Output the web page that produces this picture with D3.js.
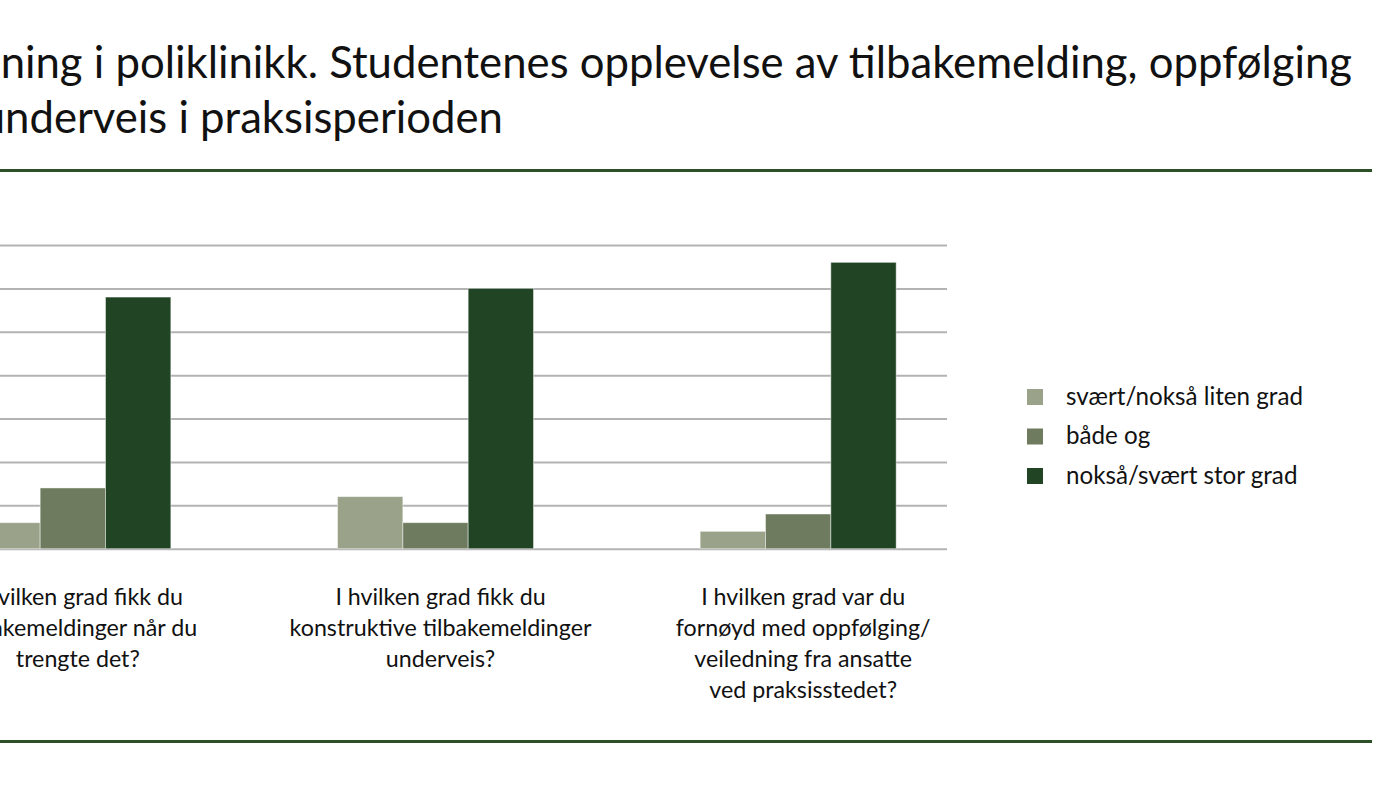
<!DOCTYPE html>
<html>
<head>
<meta charset="utf-8">
<script src="https://cdn.jsdelivr.net/npm/d3@7"></script>
<style>
  html, body { margin: 0; padding: 0; background: #fff; overflow: hidden; }
  svg { display: block; font-family: Lato, "Open Sans", sans-serif; }
</style>
</head>
<body>
<svg id="chart" width="1400" height="786"></svg>
<script>
// data (antall svar)
const titleLines = [
  "Veiledning i poliklinikk. Studentenes opplevelse av tilbakemelding, oppfølging",
  "underveis i praksisperioden"
];
const categories = ["q1", "q2", "q3"];
const categoryLabels = [
  ["I hvilken grad fikk du", "tilbakemeldinger når du", "trengte det?"],
  ["I hvilken grad fikk du", "konstruktive tilbakemeldinger", "underveis?"],
  ["I hvilken grad var du", "fornøyd med oppfølging/", "veiledning fra ansatte", "ved praksisstedet?"]
];
const seriesNames = ["svært/nokså liten grad", "både og", "nokså/svært stor grad"];
const seriesColors = ["#9aa28a", "#6e7b5e", "#214425"];
const litenGrad = [3, 6, 2];
const baadeOg = [7, 3, 4];
const storGrad = [29, 30, 33];
const yTicks = [0, 5, 10, 15, 20, 25, 30, 35];

const values = [litenGrad, baadeOg, storGrad];

const svg = d3.select("#chart");

// helper: font size so that a string gets a given width
function fitSize(str, target) {
  const t = svg.append("text").attr("font-size", 40).text(str);
  const w = t.node().getComputedTextLength();
  t.remove();
  return 40 * target / w;
}

// title (the left part runs off the picture, as in the original)
const titleSize = fitSize("ning i poliklinikk. Studentenes opplevelse av tilbakemelding, oppfølging", 1352);
svg.append("g").selectAll("text")
  .data(titleLines)
  .join("text")
  .attr("x", (d, i) => i === 0 ? 1352 : 503)
  .attr("y", (d, i) => 78 + i * 55)
  .attr("text-anchor", "end")
  .attr("font-size", titleSize)
  .attr("fill", "#111")
  .text(d => d);

// green rules
svg.append("g").selectAll("line")
  .data([170.5, 741.5])
  .join("line")
  .attr("x1", -10).attr("x2", 1372)
  .attr("y1", d => d).attr("y2", d => d)
  .attr("stroke", "#2d5029")
  .attr("stroke-width", 3);

// plot
const x = d3.scaleBand().domain(categories).range([-108.5, 979.5]);
const x1 = d3.scaleBand().domain(d3.range(seriesNames.length))
  .range([x.bandwidth() / 2 - 98, x.bandwidth() / 2 + 98]);
const y = d3.scaleLinear().domain([0, 35]).range([548.7, 245]);

// gridlines only, the value labels sit outside the visible area
const gridX0 = -140, gridX1 = 947;
svg.append("g")
  .attr("transform", `translate(${gridX0},0)`)
  .call(d3.axisLeft(y).tickValues(yTicks).tickSize(-(gridX1 - gridX0)).tickFormat(""))
  .call(g => g.select(".domain").remove())
  .call(g => g.selectAll(".tick line").attr("stroke", "#b3b3b3").attr("stroke-width", 2));

const groups = svg.append("g").selectAll("g")
  .data(categories)
  .join("g")
  .attr("transform", d => `translate(${x(d)},0)`);

groups.selectAll("rect")
  .data((d, ci) => values.map((s, si) => ({ si, v: s[ci] })))
  .join("rect")
  .attr("x", d => x1(d.si))
  .attr("width", x1.bandwidth())
  .attr("y", d => y(d.v))
  .attr("height", d => y(0) - y(d.v))
  .attr("fill", d => seriesColors[d.si])
  .attr("stroke", "#ffffff")
  .attr("stroke-opacity", 0.45)
  .attr("stroke-width", 1);

// category labels
const labelSize = fitSize("konstruktive tilbakemeldinger", 302);
svg.append("g").selectAll("g")
  .data(categories)
  .join("g")
  .each(function (d, i) {
    d3.select(this).selectAll("text")
      .data(categoryLabels[i])
      .join("text")
      .attr("x", x(d) + x.bandwidth() / 2 + 5)
      .attr("y", (t, j) => 605 + j * 31)
      .attr("text-anchor", "middle")
      .attr("font-size", labelSize)
      .attr("fill", "#111")
      .text(t => t);
  });

// legend
const legendSize = fitSize("svært/nokså liten grad", 237);
const legend = svg.append("g").selectAll("g")
  .data(seriesNames)
  .join("g")
  .attr("transform", (d, i) => `translate(1027,${397 + i * 39.5})`);
legend.append("rect")
  .attr("x", 0).attr("y", -8)
  .attr("width", 16).attr("height", 16)
  .attr("fill", (d, i) => seriesColors[i]);
legend.append("text")
  .attr("x", 39).attr("y", 7.5)
  .attr("font-size", legendSize)
  .attr("fill", "#111")
  .text(d => d);
</script>
</body>
</html>
